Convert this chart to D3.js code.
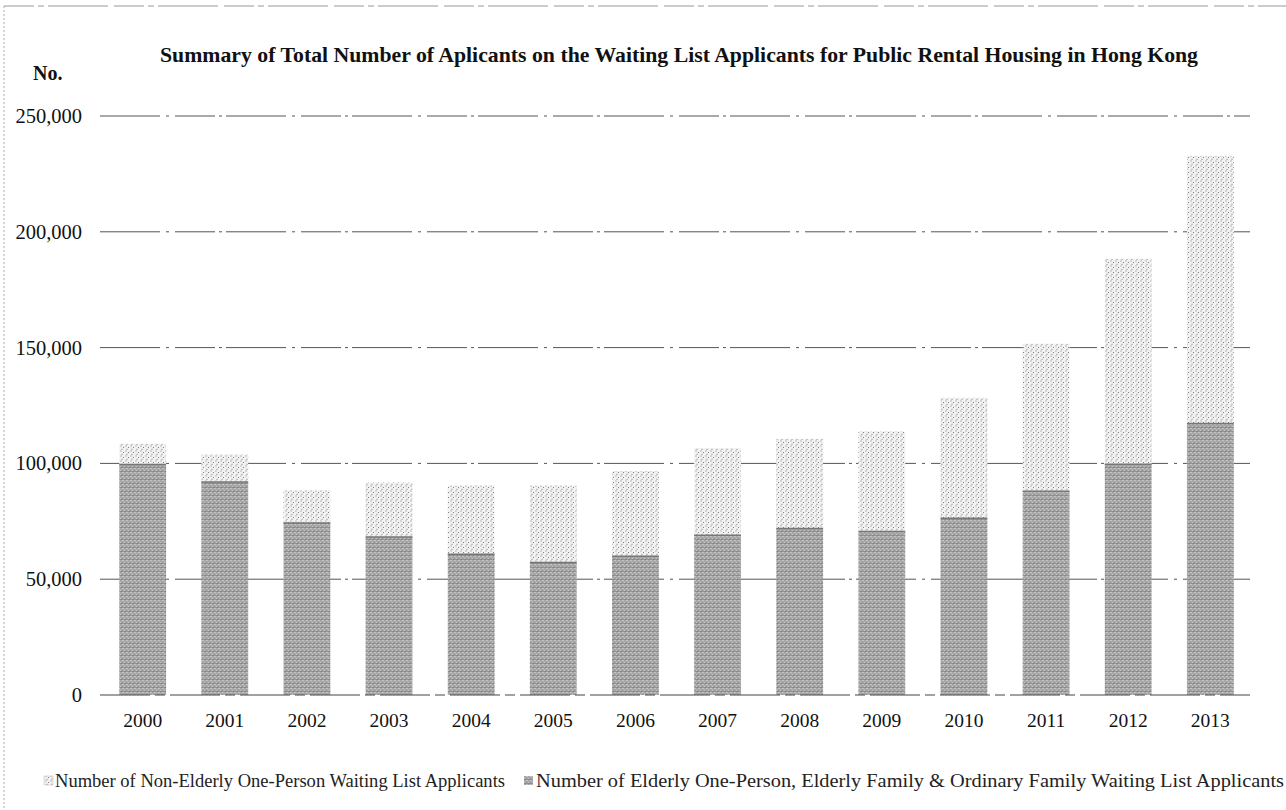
<!DOCTYPE html>
<html>
<head>
<meta charset="utf-8">
<script src="https://cdn.jsdelivr.net/npm/d3@7"></script>
<style>
  html, body { margin: 0; padding: 0; background: #fff; }
  svg { display: block; }
</style>
</head>
<body>
<svg id="chart" width="1286" height="810"></svg>
<script>
const years = ["2000","2001","2002","2003","2004","2005","2006","2007","2008","2009","2010","2011","2012","2013"];
const elderlyFamily = [99500, 92000, 74300, 68200, 60800, 57200, 59900, 69000, 71900, 70600, 76300, 88000, 99600, 117200];
const nonElderly = [9000, 11800, 14100, 23500, 29700, 33300, 36800, 37600, 38700, 43200, 52000, 63700, 88800, 115600];
const yTicks = [0, 50000, 100000, 150000, 200000, 250000];
const seriesNames = [
  "Number of Non-Elderly One-Person Waiting List Applicants",
  "Number of Elderly One-Person, Elderly Family & Ordinary Family Waiting List Applicants"
];
const titleText = "Summary of Total Number of Aplicants on the Waiting List Applicants for Public Rental Housing in Hong Kong";

const svg = d3.select("#chart");
const font = "'Liberation Serif', 'Times New Roman', serif";

// patterns
const defs = svg.append("defs");
const pd = defs.append("pattern").attr("id","pDark").attr("patternUnits","userSpaceOnUse").attr("width",4).attr("height",4);
pd.append("rect").attr("width",4).attr("height",4).attr("fill","#c2c2c2");
[[0.5,0.5],[2.5,1.5],[1.5,2.5],[3.5,3.5],[0.5,3],[2.5,3.5]].forEach(([x,y])=>pd.append("rect").attr("x",x).attr("y",y).attr("width",1).attr("height",1).attr("fill","#5a5a5a"));
const pl = defs.append("pattern").attr("id","pLight").attr("patternUnits","userSpaceOnUse").attr("width",5).attr("height",5);
pl.append("rect").attr("width",5).attr("height",5).attr("fill","#f2f2f2");
[[0.5,0.5],[3,2],[1.5,3.8]].forEach(([x,y])=>pl.append("rect").attr("x",x).attr("y",y).attr("width",1).attr("height",1).attr("fill","#808080"));

// frame (scan border)
svg.append("line").attr("x1",4).attr("x2",4).attr("y1",6).attr("y2",810)
  .attr("stroke","#aaa").attr("stroke-width",1).attr("stroke-dasharray","2,2");
svg.append("line").attr("x1",4).attr("x2",1286).attr("y1",6).attr("y2",6)
  .attr("stroke","#999").attr("stroke-width",1).attr("stroke-dasharray","30,4,6,4,60,6");

const x = d3.scaleBand().domain(years).range([102, 1251]).paddingInner(0.43).paddingOuter(0.21);
const y = d3.scaleLinear().domain([0, 250000]).range([695, 116]);

// gridlines
svg.append("g").selectAll("line").data(yTicks.filter(d=>d>0)).join("line")
  .attr("x1",100).attr("x2",1250)
  .attr("y1",d=>y(d)).attr("y2",d=>y(d))
  .attr("stroke","#555").attr("stroke-width",1)
  .attr("stroke-dasharray","60,6,3,6,40,4,3,4");

// y axis labels
const yAxis = d3.axisLeft(y).tickValues(yTicks).tickSize(0).tickPadding(0).tickFormat(d3.format(","));
const ga = svg.append("g").attr("transform","translate(82,0)").call(yAxis);
ga.select(".domain").remove();
ga.selectAll("text").attr("font-family",font).attr("font-size",20.5).attr("fill","#111");

// bars
const stackData = years.map((yr,i)=>({year:yr, dark:elderlyFamily[i], light:nonElderly[i]}));
const stack = d3.stack().keys(["dark","light"])(stackData);
const g = svg.append("g");
g.selectAll("g").data(stack).join("g")
  .attr("fill", d => d.key==="dark" ? "url(#pDark)" : "url(#pLight)")
  .selectAll("rect").data(d=>d).join("rect")
  .attr("x", d=>x(d.data.year))
  .attr("width", x.bandwidth())
  .attr("y", d=>y(d[1]))
  .attr("height", d=>y(d[0])-y(d[1]));
// dark top edge line
g.selectAll("line.top").data(stack[0]).join("line")
  .attr("x1",d=>x(d.data.year)).attr("x2",d=>x(d.data.year)+x.bandwidth())
  .attr("y1",d=>y(d[1])).attr("y2",d=>y(d[1]))
  .attr("stroke","#777").attr("stroke-width",1.5);

// baseline
svg.append("line").attr("x1",100).attr("x2",1250).attr("y1",y(0)).attr("y2",y(0))
  .attr("stroke","#444").attr("stroke-width",1.2).attr("stroke-dasharray","50,5,10,5");

// x axis labels
const xAxis = d3.axisBottom(x).tickSize(0).tickPadding(0);
const gx = svg.append("g").attr("transform","translate(0,713)").call(xAxis);
gx.select(".domain").remove();
gx.selectAll("text").attr("font-family",font).attr("font-size",19.5).attr("fill","#111").attr("dy","0.71em");

// title
svg.append("text").attr("x",160).attr("y",62)
  .attr("font-family",font).attr("font-weight","bold").attr("font-size",21).attr("fill","#111")
  .attr("textLength",1038).attr("lengthAdjust","spacingAndGlyphs")
  .text(titleText);
svg.append("text").attr("x",33).attr("y",80)
  .attr("font-family",font).attr("font-weight","bold").attr("font-size",20).attr("fill","#111")
  .text("No.");

// legend
const legend = svg.append("g").attr("font-family",font).attr("font-size",18.5).attr("fill","#222");
legend.append("rect").attr("x",44).attr("y",776).attr("width",9).attr("height",9).attr("fill","url(#pLight)").attr("stroke","#bbb").attr("stroke-width",0.5);
legend.append("text").attr("x",55).attr("y",787).attr("textLength",450).attr("lengthAdjust","spacingAndGlyphs").text(seriesNames[0]);
legend.append("rect").attr("x",524).attr("y",776).attr("width",9).attr("height",9).attr("fill","url(#pDark)");
legend.append("text").attr("x",536).attr("y",787).attr("textLength",748).attr("lengthAdjust","spacingAndGlyphs").text(seriesNames[1]);
</script>
</body>
</html>
